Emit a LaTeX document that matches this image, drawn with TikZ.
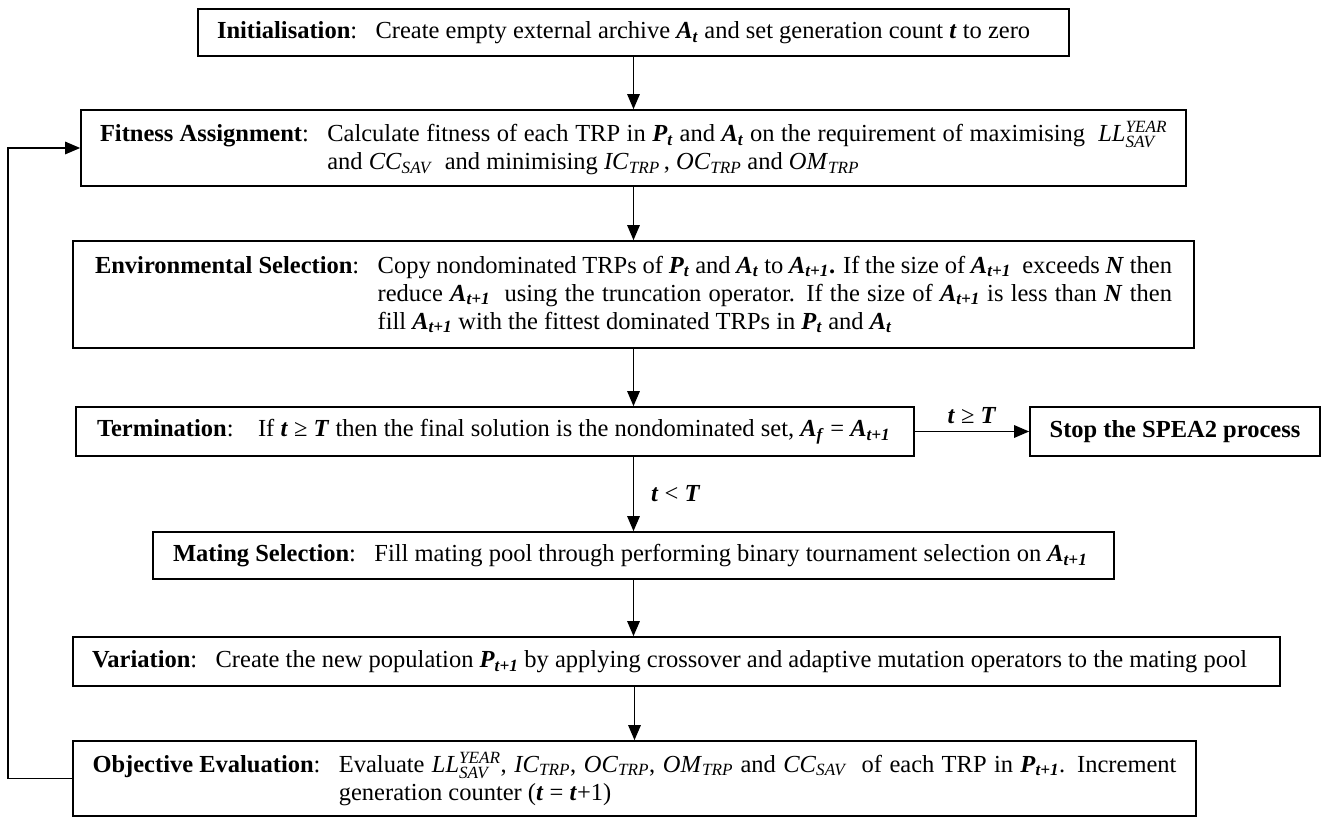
\documentclass[tikz,border=0pt]{standalone}
\usepackage{fontspec}
\usepackage{amsmath}
\setmainfont{Liberation Serif}
\usetikzlibrary{arrows.meta}
\newlength\flowlen
\newsavebox\flowlab
\newcommand{\bim}[1]{\textbf{\textit{#1}}}
\newcommand{\Pt}{\bim{P}\textsubscript{\bim{t}}}
\newcommand{\At}{\bim{A}\textsubscript{\bim{t}}}
\newcommand{\Atp}{\bim{A}\textsubscript{\bim{t+1}}}
\newcommand{\Ptp}{\bim{P}\textsubscript{\bim{t+1}}}
\newcommand{\iv}[2]{\textit{#1}\textsubscript{\textit{#2}}}
\newcommand{\LLy}{\textit{LL}$^{\text{\itshape YEAR}}_{\text{\itshape SAV}}$}
\newcommand{\fjust}[1]{\hbox to\flowlen{#1}}
\newcommand{\flast}[1]{\hbox to\flowlen{#1\hfil}}
\newcommand{\flowtext}[3]{%
  \sbox\flowlab{\textbf{#1}:\hspace{0.75em}}%
  \setlength\flowlen{\dimexpr #2-\wd\flowlab\relax}%
  \usebox\flowlab\vtop{\baselineskip=28pt #3}}
\begin{document}
\begin{tikzpicture}[x=1pt,y=-1pt,
  font=\fontsize{24.5}{28}\selectfont,
  box/.style={draw, line width=1.7pt, inner sep=0pt, rectangle},
  flow/.style={line width=1.4pt, -{Triangle[length=15pt,width=12.5pt]}},
  lbl/.style={inner sep=0pt}]
\useasboundingbox (0,0) rectangle (1323,818);

\node[box, minimum width=871pt, minimum height=47pt] (init) at (633.5,32.5)
 {\makebox[833pt][l]{\textbf{Initialisation}:\hspace{0.75em}Create empty external archive \At{} and set generation count \bim{t} to zero}};

\node[box, minimum width=1105pt, minimum height=76pt] (fit) at (633.5,148)
 {\flowtext{Fitness Assignment}{1067pt}{%
   \fjust{Calculate fitness of each TRP in \Pt{} and \At{} on the requirement of maximising \ \LLy}%
   \flast{and \iv{CC}{SAV}\ \ and minimising \iv{IC}{TRP}\,, \iv{OC}{TRP} and \iv{OM}{TRP}}}};

\node[box, minimum width=1121pt, minimum height=107pt] (env) at (633.5,294.5)
 {\flowtext{Environmental Selection}{1077pt}{%
   \fjust{Copy nondominated TRPs of \Pt{} and \At{} to \Atp\textbf{.} If the size of \Atp\ \ exceeds \bim{N} then}%
   \fjust{reduce \Atp\ \ using the truncation operator. If the size of \Atp{} is less than \bim{N} then}%
   \flast{fill \Atp{} with the fittest dominated TRPs in \Pt{} and \At}}};

\node[box, minimum width=838pt, minimum height=49pt] (term) at (495,431.5)
 {\makebox[796pt][l]{\textbf{Termination}:\hspace{1em}If \bim{t} ≥ \bim{T} then the final solution is the nondominated set, \bim{A}\textsubscript{\bim{f}} = \Atp}};

\node[box, minimum width=290pt, minimum height=49pt] (stop) at (1175,431.5)
 {\textbf{Stop the SPEA2 process}};

\node[box, minimum width=961pt, minimum height=47pt] (mate) at (633.5,555.5)
 {\makebox[921pt][l]{\textbf{Mating Selection}:\hspace{0.75em}Fill mating pool through performing binary tournament selection on \Atp}};

\node[box, minimum width=1207pt, minimum height=49pt] (var) at (676.5,661.5)
 {\makebox[1169pt][l]{\textbf{Variation}:\hspace{0.75em}Create the new population \Ptp{} by applying crossover and adaptive mutation operators to the mating pool}};

\node[box, minimum width=1123pt, minimum height=75pt] (obj) at (634.5,778.5)
 {\flowtext{Objective Evaluation}{1084pt}{%
   \fjust{Evaluate \LLy, \iv{IC}{TRP}, \iv{OC}{TRP}, \iv{OM}{TRP} and \iv{CC}{SAV}\ \ of each TRP in \Ptp. Increment}%
   \flast{generation counter (\bim{t} = \bim{t}+1)}}};

\draw[flow] (init.south) -- (fit.north);
\draw[flow] (fit.south) -- (env.north);
\draw[flow] (env.south) -- (env.south |- term.north);
\draw[flow] (term.east) -- node[lbl, above=7pt] {\bim{t} ≥ \bim{T}} (stop.west);
\draw[flow] (mate.north |- term.south) -- node[lbl, right=17pt] {\bim{t} < \bim{T}} (mate.north);
\draw[flow] (mate.south) -- (mate.south |- var.north);
\draw[flow] (obj.north |- var.south) -- (obj.north);
\coordinate (loopb) at (8,778.5);
\draw[flow] (obj.west) -- (loopb) |- (fit.west);
\end{tikzpicture}
\end{document}
